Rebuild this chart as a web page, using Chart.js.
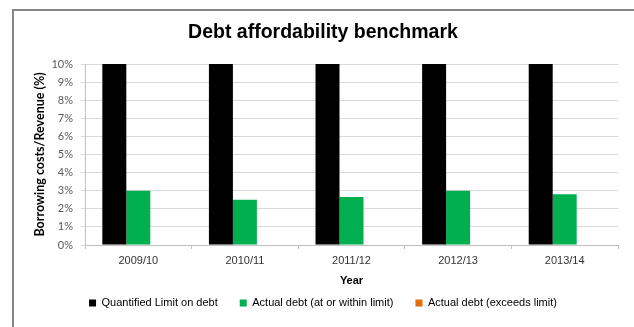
<!DOCTYPE html>
<html><head><meta charset="utf-8">
<script src="https://cdn.jsdelivr.net/npm/chart.js@4"></script>
<style>
html,body{margin:0;padding:0;background:#fff;overflow:hidden}
#wrap{position:relative;width:634px;height:327px;overflow:hidden}
#frame{position:absolute;left:12px;top:9px;width:640px;height:340px;border-left:2px solid #868686;border-top:2px solid #868686}
canvas{position:absolute;left:0;top:0}
</style></head><body>
<div id="wrap"><div id="frame"></div><canvas id="c" width="634" height="327"></canvas></div>
<script>
const years = ['2009/10', '2010/11', '2011/12', '2012/13', '2013/14'];
const quantifiedLimit = [10, 10, 10, 10, 10];
const actualWithinLimit = [3.0, 2.5, 2.65, 3.0, 2.8];
const actualExceedsLimit = [0, 0, 0, 0, 0];
const yTickLabels = ['0%', '1%', '2%', '3%', '4%', '5%', '6%', '7%', '8%', '9%', '10%'];

const legendShift = {
  id: 'legendShift',
  afterLayout(chart) {
    const lg = chart.legend;
    if (!lg) return;
    const h = lg.height;
    lg.top = 275.5;
    lg.bottom = lg.top + h;
  }
};

new Chart(document.getElementById('c'), {
  type: 'bar',
  data: {
    labels: years,
    datasets: [
      { label: 'Quantified Limit on debt', data: quantifiedLimit, backgroundColor: '#000000', borderWidth: 0, categoryPercentage: 0.675, barPercentage: 1.0 },
      { label: 'Actual debt (at or within limit)', data: actualWithinLimit, backgroundColor: '#00B050', borderWidth: 0, categoryPercentage: 0.675, barPercentage: 1.0 },
      { label: 'Actual debt (exceeds limit)', data: actualExceedsLimit, backgroundColor: '#E46C0A', borderWidth: 0, categoryPercentage: 0.675, barPercentage: 1.0 }
    ]
  },
  options: {
    responsive: false,
    animation: false,
    devicePixelRatio: 1,
    layout: { padding: { left: 12, right: 0, top: 0, bottom: 0 } },
    scales: {
      x: {
        grid: { display: true, drawOnChartArea: false, drawTicks: true, tickLength: 4, color: '#bfbfbf', offset: true },
        border: { display: true, color: '#bfbfbf' },
        ticks: { font: { family: "'Liberation Sans', Arial", size: 11 }, color: '#333333', padding: 5, maxRotation: 0 },
        title: { display: true, text: 'Year', font: { family: "'Liberation Sans', Arial", size: 11, weight: 'bold', lineHeight: 0.55 }, color: '#000', padding: 0 },
        afterFit(s) { s.height = 39; }
      },
      y: {
        min: 0, max: 10,
        ticks: { stepSize: 1, font: { family: 'Lato', size: 11 }, color: '#595959', padding: 8,
          callback: (v) => yTickLabels[Math.round(v)] },
        grid: { color: '#d9d9d9', tickLength: 4, drawTicks: true },
        border: { color: '#bfbfbf' },
        title: { display: true, text: 'Borrowing costs/Revenue (%)', font: { family: 'Lato', size: 12.5, weight: 'bold' }, color: '#000', padding: { top: 20.5, bottom: 0 } },
        afterFit(s) { s.width = 73; }
      },
      y2: {
        position: 'right', display: true,
        grid: { display: false }, ticks: { display: false }, border: { display: false },
        afterFit(s) { s.width = 16; }
      }
    },
    plugins: {
      title: { display: true, text: 'Debt affordability benchmark',
        font: { family: "'Liberation Sans', Arial", size: 19.5, weight: 'bold' },
        color: '#000', padding: { top: 21.3, bottom: 19.3 } },
      legend: { position: 'bottom',
        labels: { boxWidth: 7, boxHeight: 7, padding: 22, font: { family: "'Liberation Sans', Arial", size: 11 }, color: '#000' } },
      tooltip: { enabled: false }
    }
  },
  plugins: [legendShift]
});
</script>
</body></html>
